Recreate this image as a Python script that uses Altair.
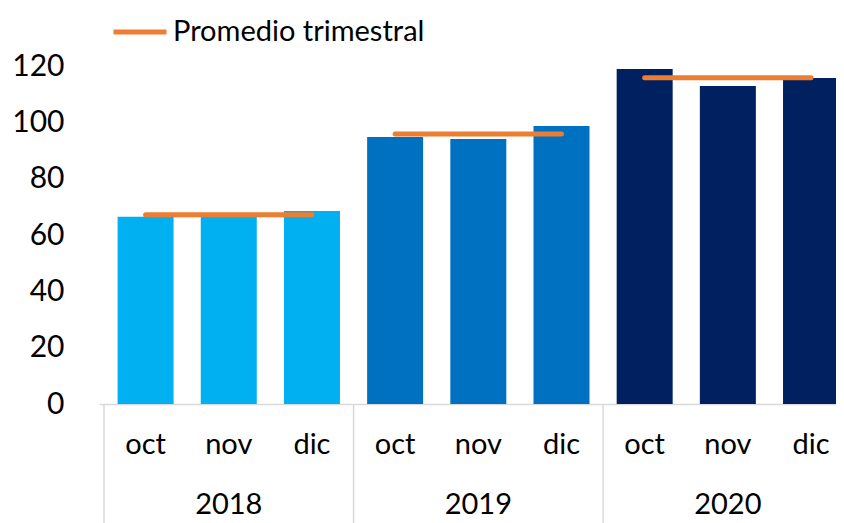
import altair as alt
import pandas as pd

years = ["2018", "2019", "2020"]
months = ["oct", "nov", "dic"]
values_2018 = [66.5, 66.5, 68.5]
values_2019 = [94.8, 94.1, 98.7]
values_2020 = [118.9, 112.9, 115.7]
quarter_avg = [67.2, 95.9, 115.8]
year_colors = ["#00B0F0", "#0070C0", "#002060"]
y_ticks = [0, 20, 40, 60, 80, 100, 120]
series_name = "Promedio trimestral"

FONT = "Lato"
W, H = 737, 338

rows = []
for gi, (yr, vals) in enumerate(zip(years, [values_2018, values_2019, values_2020])):
    for mi, (m, v) in enumerate(zip(months, vals)):
        idx = gi * len(months) + mi
        rows.append({
            "year": yr, "month": m, "value": v, "pos": idx + 0.5,
            "avg": quarter_avg[gi], "serie": series_name,
            "color": year_colors[gi],
        })
df = pd.DataFrame(rows)
groups = pd.DataFrame({
    "year": years,
    "start": [i * len(months) for i in range(len(years))],
    "center": [i * len(months) + len(months) / 2 for i in range(len(years))],
})

xscale = alt.Scale(domain=[0, 8.74], nice=False, zero=False)
yscale = alt.Scale(domain=[0, 120], nice=False)

base = alt.Chart(df)

bars = base.mark_bar(size=56).encode(
    x=alt.X("pos:Q", scale=xscale,
            axis=alt.Axis(labels=False, ticks=False, grid=False, title=None,
                          domainColor="#d9d9d9", domainWidth=1.5)),
    y=alt.Y("value:Q", scale=yscale,
            axis=alt.Axis(values=y_ticks, ticks=False, domain=False, grid=False,
                          labelFontSize=30, labelFont=FONT, labelColor="black",
                          labelPadding=35, title=None)),
    color=alt.Color("color:N", scale=None),
)

avg_line = base.mark_line(strokeWidth=5, strokeCap="round").encode(
    x=alt.X("pos:Q", scale=xscale),
    y=alt.Y("avg:Q", scale=yscale),
    detail="year:N",
    color=alt.Color("serie:N", scale=alt.Scale(range=["#ED7D31"]),
                    legend=alt.Legend(orient="none", legendX=12, legendY=-63,
                                      title=None, symbolType="stroke",
                                      symbolStrokeWidth=5, symbolSize=2809,
                                      labelFontSize=29, labelFont=FONT,
                                      labelColor="black", labelOffset=4,
                                      labelLimit=0, padding=0)),
)

month_text = base.mark_text(fontSize=29, font=FONT, color="black",
                            baseline="middle").encode(
    x=alt.X("pos:Q", scale=xscale),
    y=alt.value(H + 41),
    text="month:N",
)

year_text = alt.Chart(groups).mark_text(fontSize=29, font=FONT, color="black",
                                        baseline="middle").encode(
    x=alt.X("center:Q", scale=xscale),
    y=alt.value(H + 101),
    text="year:N",
)

separators = alt.Chart(groups).mark_rule(color="#d9d9d9", strokeWidth=1.5).encode(
    x=alt.X("start:Q", scale=xscale),
    y=alt.value(H),
    y2=alt.value(H + 125),
)

chart = alt.layer(separators, bars, avg_line, month_text, year_text).properties(
    width=W, height=H,
    autosize=alt.AutoSizeParams(type="none"),
    padding={"left": 91, "top": 58, "right": 0, "bottom": 119},
).configure_view(stroke=None)

chart.save("out.html", embed_options={"renderer": "svg", "actions": False})
